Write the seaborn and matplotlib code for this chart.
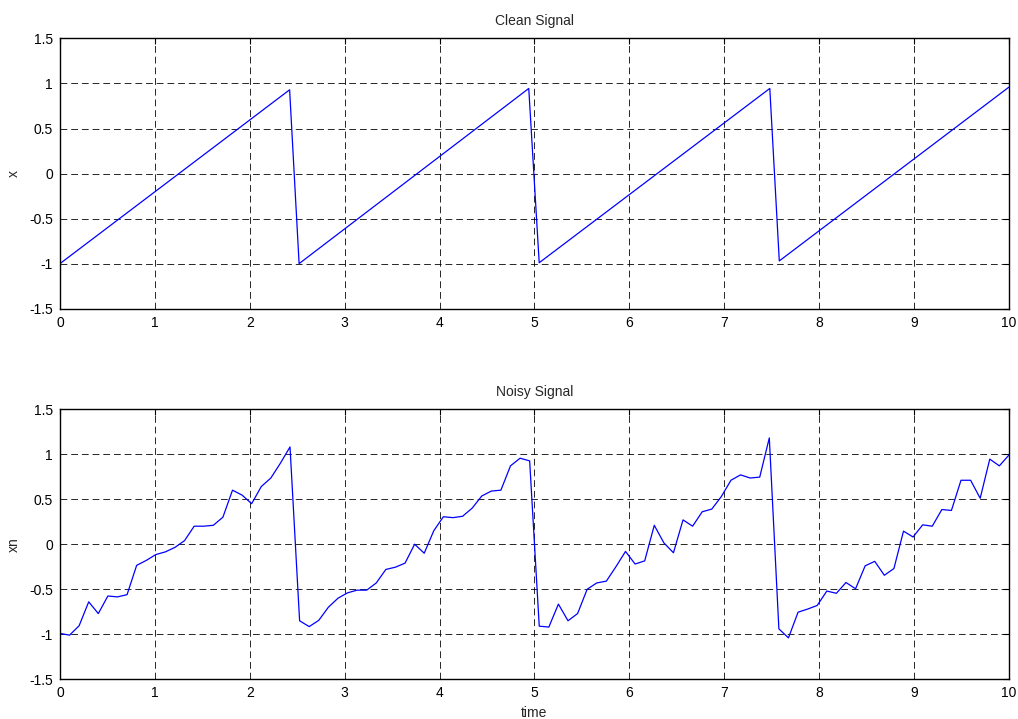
import numpy as np
import pandas as pd
import seaborn as sns
from matplotlib import pyplot as plt

# clean sawtooth: corner points
clean_t = [0.0, 2.42, 2.52, 4.94, 5.05, 7.48, 7.58, 10.0]
clean_x = [-1.0, 0.93, -1.0, 0.945, -0.99, 0.945, -0.97, 0.96]

# noisy signal, 100 samples between 0 and 10
noisy_t = np.linspace(0, 10, 100)
noisy_x = [
    -0.99, -1.01, -0.905, -0.64, -0.77, -0.575, -0.585, -0.56, -0.235, -0.18,
    -0.115, -0.085, -0.035, 0.04, 0.20, 0.20, 0.21, 0.30, 0.60, 0.545,
    0.45, 0.64, 0.735, 0.90, 1.08, -0.85, -0.915, -0.845, -0.70, -0.60,
    -0.54, -0.51, -0.51, -0.43, -0.28, -0.255, -0.21, 0.0, -0.10, 0.15,
    0.305, 0.295, 0.31, 0.40, 0.535, 0.59, 0.60, 0.87, 0.955, 0.925,
    -0.91, -0.92, -0.665, -0.85, -0.77, -0.50, -0.43, -0.41, -0.25, -0.08,
    -0.22, -0.185, 0.21, 0.015, -0.095, 0.27, 0.20, 0.36, 0.39, 0.53,
    0.71, 0.77, 0.735, 0.745, 1.18, -0.94, -1.04, -0.755, -0.72, -0.68,
    -0.52, -0.545, -0.425, -0.495, -0.24, -0.19, -0.345, -0.27, 0.145, 0.08,
    0.215, 0.20, 0.385, 0.375, 0.71, 0.71, 0.51, 0.945, 0.87, 0.99,
]

x_ticks = list(range(0, 11))
y_ticks = [-1.5, -1, -0.5, 0, 0.5, 1, 1.5]
y_ticklabels = ['-1.5', '-1', '-0.5', '0', '0.5', '1', '1.5']

sns.set_style('white')
plt.rcParams['font.family'] = ['Liberation Sans', 'DejaVu Sans']
plt.rcParams['font.size'] = 10

fig = plt.figure(figsize=(10.18, 7.19), dpi=100)
ax1 = fig.add_axes([0.0589, 0.5707, 0.9322, 0.3758])
ax2 = fig.add_axes([0.0589, 0.0552, 0.9322, 0.3758])

df_clean = pd.DataFrame({'t': clean_t, 'x': clean_x})
df_noisy = pd.DataFrame({'t': noisy_t, 'xn': noisy_x})

sns.lineplot(data=df_clean, x='t', y='x', ax=ax1, color='#0000ff', lw=0.9)
sns.lineplot(data=df_noisy, x='t', y='xn', ax=ax2, color='#0000ff', lw=0.9)

# matlab-ish axes setup
for ax, title, ylab in [(ax1, 'Clean Signal', 'x'), (ax2, 'Noisy Signal', 'xn')]:
    ax.set_xlim(0, 10)
    ax.set_ylim(-1.5, 1.5)
    ax.set_xticks(x_ticks)
    ax.set_xticklabels([str(v) for v in x_ticks])
    ax.set_yticks(y_ticks)
    ax.set_yticklabels(y_ticklabels)
    ax.grid(True, color='black', linestyle=(0, (7, 4)), linewidth=0.7, alpha=0.85)
    ax.tick_params(direction='in', length=4, width=0.8, top=True, right=True,
                   labelsize=10, pad=5, colors='black')
    for s in ax.spines.values():
        s.set_color('black')
        s.set_linewidth(1.0)
    ax.set_title(title, fontsize=10, pad=9.5)
    ax.set_ylabel(ylab, fontsize=10, labelpad=6)
    ax.set_xlabel('')

ax2.set_xlabel('time', fontsize=10, labelpad=4)

fig.savefig('out.png', dpi=100)
